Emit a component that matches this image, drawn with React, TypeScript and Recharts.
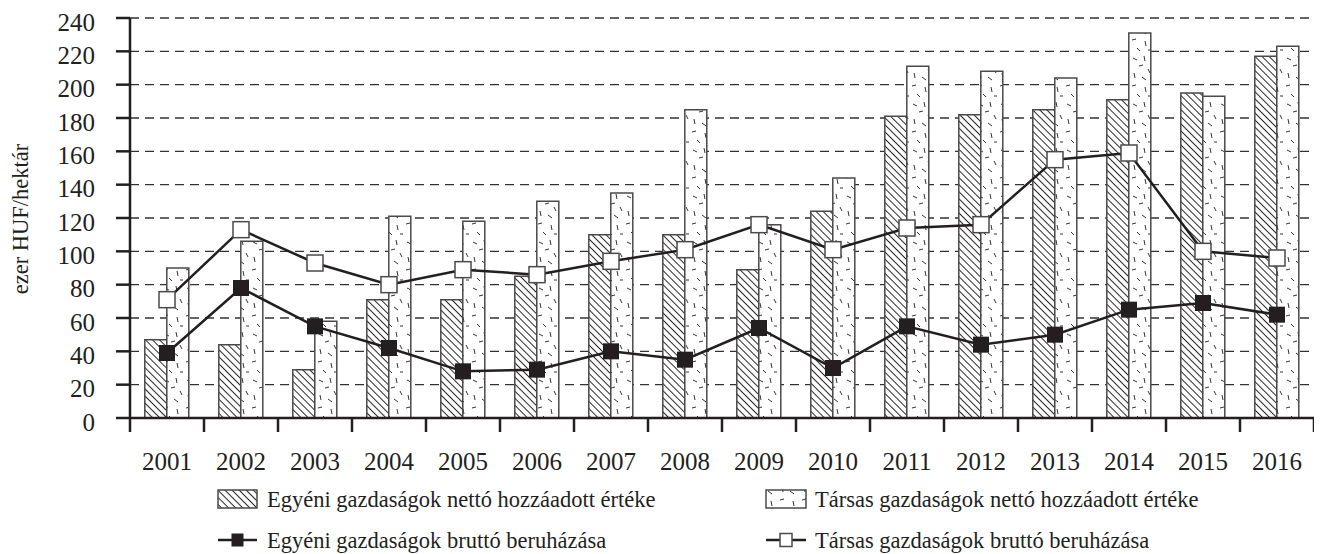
import React from 'react';
import { ComposedChart, Bar, Line, XAxis, YAxis, CartesianGrid } from 'recharts';

const years = ['2001', '2002', '2003', '2004', '2005', '2006', '2007', '2008', '2009', '2010', '2011', '2012', '2013', '2014', '2015', '2016'];
const egyeniNetto = [47, 44, 29, 71, 71, 85, 110, 110, 89, 124, 181, 182, 185, 191, 195, 217];
const tarsasNetto = [90, 106, 58, 121, 118, 130, 135, 185, 116, 144, 211, 208, 204, 231, 193, 223];
const egyeniBrutto = [39, 78, 55, 42, 28, 29, 40, 35, 54, 30, 55, 44, 50, 65, 69, 62];
const tarsasBrutto = [71, 113, 93, 80, 89, 86, 94, 101, 116, 101, 114, 116, 155, 159, 100, 96];
const yTicks = [0, 20, 40, 60, 80, 100, 120, 140, 160, 180, 200, 220, 240];

const yAxisLabel = 'ezer HUF/hektár';
const legendLabels = {
  egyeniNetto: 'Egyéni gazdaságok nettó hozzáadott értéke',
  tarsasNetto: 'Társas gazdaságok nettó hozzáadott értéke',
  egyeniBrutto: 'Egyéni gazdaságok bruttó beruházása',
  tarsasBrutto: 'Társas gazdaságok bruttó beruházása',
};

const data = years.map((year, i) => ({
  year,
  egyeniNetto: egyeniNetto[i],
  tarsasNetto: tarsasNetto[i],
  egyeniBrutto: egyeniBrutto[i],
  tarsasBrutto: tarsasBrutto[i],
}));

const W = 1314;
const H = 546;
const M = { top: 10, right: 8, left: 0, bottom: 0 };
const Y_AXIS_W = 122;
const X_AXIS_H = 136;
const FONT = '"Liberation Serif", "Times New Roman", serif';
const INK = '#231f20';
const BAR_STROKE = '#4a4a4a';

const plotLeft = M.left + Y_AXIS_W;
const plotRight = W - M.right;
const band = (plotRight - plotLeft) / years.length;

const dashes = [
  [3, 4, 7, 6], [14, 2, 15, 7], [9, 12, 13, 11], [18, 15, 20, 19], [4, 19, 5, 24],
  [12, 23, 16, 26], [2, 32, 6, 31], [15, 33, 16, 38], [7, 40, 10, 43], [18, 42, 21, 42],
];

function XTick(props: any) {
  const { x, y, payload, index } = props;
  const left = x - band / 2;
  return (
    <g>
      <line x1={left} x2={left} y1={y - 14} y2={y} stroke={INK} strokeWidth={2.5} />
      {index === years.length - 1 && (
        <line x1={x + band / 2} x2={x + band / 2} y1={y - 14} y2={y} stroke={INK} strokeWidth={2.5} />
      )}
      <text x={x} y={y + 38} textAnchor="middle" fontSize={25} fontFamily={FONT} fill={INK}>
        {payload.value}
      </text>
    </g>
  );
}

function YTick(props: any) {
  const { x, y, payload } = props;
  return (
    <text x={x} y={y + 4} textAnchor="end" dominantBaseline="central" fontSize={25} fontFamily={FONT} fill={INK}>
      {payload.value}
    </text>
  );
}

function BlackSquare(props: any) {
  const { cx, cy, index } = props;
  if (cx == null || cy == null) return <g key={`b${index}`} />;
  return <rect key={`b${index}`} x={cx - 8} y={cy - 8} width={16} height={16} fill={INK} />;
}

function WhiteSquare(props: any) {
  const { cx, cy, index } = props;
  if (cx == null || cy == null) return <g key={`w${index}`} />;
  return <rect key={`w${index}`} x={cx - 8} y={cy - 8} width={16} height={16} fill="#fff" stroke={BAR_STROKE} strokeWidth={1.5} />;
}

function Legend() {
  const r1 = 491;
  const r2 = 532;
  const col1 = 210;
  const col2 = 758;
  const txt = { fontSize: 22.5, fontFamily: FONT, fill: INK } as any;
  return (
    <svg width={W} height={H} style={{ position: 'absolute', left: 0, top: 0, pointerEvents: 'none' }}>
      <text
        x={12}
        y={211}
        transform="rotate(-90 12 211)"
        textAnchor="middle"
        dominantBaseline="central"
        fontSize={22.5}
        fontFamily={FONT}
        fill={INK}
      >
        {yAxisLabel}
      </text>

      <rect x={col1} y={r1 - 9} width={39} height={18} fill="url(#hatch)" stroke={BAR_STROKE} strokeWidth={1.5} />
      <text x={col1 + 49} y={r1} dominantBaseline="central" {...txt}>{legendLabels.egyeniNetto}</text>

      <rect x={col2} y={r1 - 9} width={40} height={18} fill="url(#dashfill)" stroke={BAR_STROKE} strokeWidth={1.5} />
      <text x={col2 + 49} y={r1} dominantBaseline="central" {...txt}>{legendLabels.tarsasNetto}</text>

      <line x1={col1} x2={col1 + 39} y1={r2} y2={r2} stroke={INK} strokeWidth={2.5} />
      <rect x={col1 + 13.5} y={r2 - 6.5} width={12} height={13} fill={INK} />
      <text x={col1 + 49} y={r2} dominantBaseline="central" {...txt}>{legendLabels.egyeniBrutto}</text>

      <line x1={col2} x2={col2 + 40} y1={r2} y2={r2} stroke={INK} strokeWidth={2.5} />
      <rect x={col2 + 14} y={r2 - 6.5} width={12} height={13} fill="#fff" stroke={BAR_STROKE} strokeWidth={1.5} />
      <text x={col2 + 49} y={r2} dominantBaseline="central" {...txt}>{legendLabels.tarsasBrutto}</text>
    </svg>
  );
}

export default function App() {
  return (
    <div style={{ position: 'relative', width: W, height: H }}>
      <svg width={0} height={0} style={{ position: 'absolute' }}>
        <defs>
          <pattern id="hatch" patternUnits="userSpaceOnUse" width={5} height={5} patternTransform="rotate(-45)">
            <rect width={5} height={5} fill="#fff" />
            <line x1={2.5} y1={0} x2={2.5} y2={5} stroke="#2a2a2a" strokeWidth={1} />
          </pattern>
          <pattern id="dashfill" patternUnits="userSpaceOnUse" width={22} height={46}>
            <rect width={22} height={46} fill="#fff" />
            {dashes.map((d, i) => (
              <line key={i} x1={d[0]} y1={d[1]} x2={d[2]} y2={d[3]} stroke="#333" strokeWidth={1} />
            ))}
          </pattern>
        </defs>
      </svg>
      <ComposedChart width={W} height={H} data={data} margin={M} barCategoryGap="20%" barGap={0}>
        <CartesianGrid horizontal vertical={false} stroke="#333" strokeWidth={1.3} strokeDasharray="9 6" />
        <XAxis
          dataKey="year"
          height={X_AXIS_H}
          interval={0}
          tickSize={14}
          tickMargin={0}
          tickLine={false}
          axisLine={{ stroke: INK, strokeWidth: 2.5 }}
          tick={<XTick />}
        />
        <YAxis
          width={Y_AXIS_W}
          domain={[0, 240]}
          ticks={yTicks}
          interval={0}
          tickSize={14}
          tickMargin={21}
          tickLine={{ stroke: INK, strokeWidth: 2.5 }}
          axisLine={{ stroke: INK, strokeWidth: 2.5 }}
          tick={<YTick />}
        />
        <Bar dataKey="egyeniNetto" fill="url(#hatch)" stroke={BAR_STROKE} strokeWidth={1.5} isAnimationActive={false} />
        <Bar dataKey="tarsasNetto" fill="url(#dashfill)" stroke={BAR_STROKE} strokeWidth={1.5} isAnimationActive={false} />
        <Line type="linear" dataKey="tarsasBrutto" stroke={INK} strokeWidth={2.5} dot={WhiteSquare} activeDot={false} isAnimationActive={false} />
        <Line type="linear" dataKey="egyeniBrutto" stroke={INK} strokeWidth={2.5} dot={BlackSquare} activeDot={false} isAnimationActive={false} />
      </ComposedChart>
      <Legend />
    </div>
  );
}
